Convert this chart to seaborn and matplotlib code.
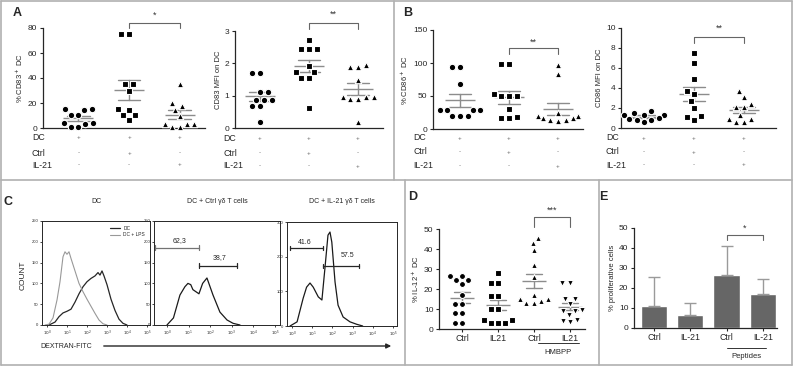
import numpy as np
import pandas as pd
import matplotlib
matplotlib.use('Agg')
import matplotlib.pyplot as plt
import matplotlib.transforms as mtransforms
from matplotlib.lines import Line2D
import seaborn as sns

# ---------------- data ----------------
# A: % CD83+ DC and CD83 MFI (DC / DC+Ctrl / DC+IL-21)
a1_dc = [15, 15, 14.5, 10.5, 10.5, 4, 4, 3.5, 0.5, 0.5]
a1_ctrl = [75, 75, 35, 35, 30, 15, 14.5, 10.5, 10.5, 6.5]
a1_il21 = [35, 20, 17.5, 14.5, 9.5, 3.5, 3.5, 3.5, 0.5, 0.5]
a2_dc = [1.7, 1.7, 1.12, 1.1, 0.88, 0.87, 0.87, 0.68, 0.67, 0.2]
a2_ctrl = [2.72, 2.45, 2.45, 2.45, 1.93, 1.72, 1.72, 1.55, 1.55, 0.62]
a2_il21 = [1.94, 1.9, 1.9, 1.5, 0.97, 0.97, 0.95, 0.9, 0.9, 0.2]
# B: % CD86+ DC and CD86 MFI
b1_dc = [94, 94, 68, 29, 29, 29, 29, 20, 20, 20]
b1_ctrl = [99, 99, 53, 50, 50, 50, 31, 18, 16, 16]
b1_il21 = [97, 84, 24, 20, 20, 19, 16, 16, 13, 13, 12]
b2_dc = [1.75, 1.55, 1.35, 1.3, 1.3, 1.0, 0.95, 0.85, 0.85, 0.6]
b2_ctrl = [7.5, 6.5, 4.9, 3.7, 3.4, 2.7, 2.0, 1.2, 1.15, 0.85]
b2_il21 = [3.7, 3.1, 2.45, 2.15, 2.1, 1.3, 0.95, 0.95, 0.65, 0.65]
row_names = ['DC', 'Ctrl', 'IL-21']
row_signs = [['+', '+', '+'], ['-', '+', '-'], ['-', '-', '+']]

# C: dextran-FITC histograms (x in decades, y = count)
c1_dc_x = [0.1, 0.4, 0.6, 0.8, 1.0, 1.2, 1.4, 1.6, 1.8, 2.0, 2.2, 2.4, 2.55, 2.65, 2.75, 2.85, 3.0, 3.2, 3.4, 3.6, 3.8, 4.0]
c1_dc_y = [0, 7, 20, 29, 33, 38, 55, 75, 92, 104, 112, 118, 126, 120, 130, 118, 97, 62, 35, 14, 4, 0]
c1_lps_x = [-0.1, 0.1, 0.3, 0.5, 0.65, 0.8, 0.9, 1.0, 1.1, 1.2, 1.4, 1.6, 1.8, 2.0, 2.2, 2.4, 2.6, 2.8, 3.0]
c1_lps_y = [0, 2, 17, 60, 104, 164, 176, 170, 176, 160, 130, 100, 80, 62, 45, 28, 12, 3, 0]
c2_x = [0.0, 0.3, 0.6, 0.83, 0.97, 1.1, 1.2, 1.48, 1.65, 1.85, 2.13, 2.45, 2.78, 3.06, 3.38]
c2_y = [0, 17, 72, 92, 100, 97, 85, 75, 100, 113, 72, 31, 12, 4, 0]
c3_x = [-0.1, 0.25, 0.55, 0.72, 0.89, 1.05, 1.3, 1.48, 1.63, 1.78, 1.88, 1.97, 2.13, 2.28, 2.53, 2.87, 3.2, 3.5]
c3_y = [0, 12, 80, 112, 124, 112, 84, 75, 167, 262, 271, 242, 127, 60, 26, 12, 5, 0]

# D: % IL-12+ DC
d_groups = ['Ctrl', 'IL21', 'Ctrl ', 'IL21 ']
d_ctrl = [26.5, 26.5, 24.5, 24.5, 22.5, 17, 12.5, 12.5, 8, 8, 3, 3]
d_il21 = [28, 23, 23, 16.5, 16.5, 10, 10, 4.5, 4.5, 3, 3, 3]
d_hm_ctrl = [45.5, 43, 39.5, 32, 26, 17, 15, 15, 15, 14, 13, 13]
d_hm_il21 = [23, 23, 15, 15, 12.5, 9.5, 9, 9, 7, 4.5, 4, 3.5]

# E: % proliferative cells (mean, upper error)
e_groups = ['Ctrl', 'IL-21', 'Ctrl ', 'IL-21 ']
e_mean = [10.8, 6.3, 26.3, 17.0]
e_err = [14.5, 6.2, 14.9, 7.5]

# ---------------- figure ----------------
sns.set_theme(style='ticks')
plt.rcParams['font.family'] = ['Liberation Sans', 'DejaVu Sans']
plt.rcParams['axes.linewidth'] = 0.9

W, H = 794, 367
fig = plt.figure(figsize=(W / 100, H / 100), dpi=100)


def add_ax(l, t, r, b):
    return fig.add_axes([l / W, 1 - b / H, (r - l) / W, (b - t) / H])


def fy(ypx):
    return 1 - ypx / H


def dots(ax, cats, vals, markers, ylim, yticks, ylabel, xlim, msize=4.6, mean_w=22):
    df = pd.DataFrame({'grp': np.repeat(cats, [len(v) for v in vals]),
                       'val': np.concatenate(vals)})
    sns.pointplot(data=df, x='grp', y='val', order=cats, errorbar='se',
                  color='0.55', marker='_', markersize=mean_w,
                  markeredgewidth=1.0, linestyle='none', capsize=0.45,
                  err_kws={'linewidth': 1.0}, ax=ax)
    for c, m in zip(cats, markers):
        # white rim keeps neighbouring markers apart, like the original layout
        sns.swarmplot(data=df[df.grp == c], x='grp', y='val', order=cats,
                      marker=m, color='black', size=msize, ax=ax,
                      edgecolor='white', linewidth=0.8,
                      zorder=3, clip_on=False)
    ax.set_xlim(xlim)
    ax.set_ylim(ylim)
    ax.set_yticks(yticks)
    ax.set_xlabel('')
    ax.set_ylabel(ylabel, fontsize=5.5, labelpad=2)
    sns.despine(ax=ax)
    ax.tick_params(axis='y', length=2.5, width=0.8, labelsize=6, pad=1.5)
    return df


def bracket(ax, x1, x2, ytop, ybot, label, ylab, fs=6.5):
    tr = mtransforms.blended_transform_factory(ax.transData, fig.transFigure)
    ax.plot([x1, x1, x2, x2], [fy(ybot), fy(ytop), fy(ytop), fy(ybot)],
            color='0.4', lw=0.8, transform=tr, clip_on=False)
    ax.text((x1 + x2) / 2, fy(ylab), label, transform=tr, ha='center',
            va='center', fontsize=fs, color='0.2')


def row_table(ax, xlab, ys):
    tr = mtransforms.blended_transform_factory(ax.transData, fig.transFigure)
    for name, signs, y in zip(row_names, row_signs, ys):
        fig.text(xlab / W, fy(y), name, fontsize=6.3, ha='left', va='center')
        for i, s in enumerate(signs):
            ax.text(i, fy(y), s, transform=tr, fontsize=4.5, ha='center',
                    va='center', color='0.4')


top_cats = ['DC', 'DC+Ctrl', 'DC+IL-21']
mk3 = ['o', 's', '^']

ax = add_ax(43, 28, 205, 128)
dots(ax, top_cats, [a1_dc, a1_ctrl, a1_il21], mk3, (0, 80), [0, 20, 40, 60, 80],
     '% CD83$^+$ DC', (-0.7, 2.5))
ax.set_xticks([])
bracket(ax, 1, 2, 23, 28, '*', 15)
row_table(ax, 32, [137, 153, 165])

ax = add_ax(235, 31, 383, 128)
dots(ax, top_cats, [a2_dc, a2_ctrl, a2_il21], mk3, (0, 3), [0, 1, 2, 3],
     'CD83 MFI on DC', (-0.51, 2.51))
ax.set_xticks([])
bracket(ax, 1, 2, 23, 29, '**', 14)
row_table(ax, 223, [139, 153, 166])

ax = add_ax(433, 30, 583, 129)
dots(ax, top_cats, [b1_dc, b1_ctrl, b1_il21], mk3, (0, 150), [0, 50, 100, 150],
     '% CD86$^+$ DC', (-0.55, 2.51))
ax.set_xticks([])
bracket(ax, 1, 2, 48, 54, '**', 42)
row_table(ax, 413, [138, 152, 166])

ax = add_ax(621, 28, 776, 128)
dots(ax, top_cats, [b2_dc, b2_ctrl, b2_il21], mk3, (0, 10), [0, 2, 4, 6, 8, 10],
     'CD86 MFI on DC', (-0.46, 2.64))
ax.set_xticks([])
bracket(ax, 1, 2, 37, 43, '**', 28)
row_table(ax, 606, [138, 152, 165])

# ---- C: histograms
def hist_ax(rect, ymax, yticks, xlim, title):
    ax = add_ax(*rect)
    ax.set_xlim(xlim)
    ax.set_ylim(0, ymax)
    ax.set_yticks(yticks)
    ax.set_yticklabels([str(t) for t in yticks])
    ax.set_xticks(range(6))
    ax.set_xticklabels(['$10^{%d}$' % k for k in range(6)])
    ax.tick_params(labelsize=3, length=1.5, width=0.6, pad=1)
    for s in ax.spines.values():
        s.set_linewidth(0.7)
    ax.set_title(title, fontsize=5, pad=(rect[1] - 203) * 0.72)
    return ax


ax = hist_ax((42, 221, 150, 325), 250, [0, 50, 100, 150, 200, 250], (-0.25, 5.15), 'DC')
sns.lineplot(x=c1_dc_x, y=c1_dc_y, ax=ax, color='0.15', lw=0.9, label='DC')
sns.lineplot(x=c1_lps_x, y=c1_lps_y, ax=ax, color='0.6', lw=0.8, label='DC + LPS')
ax.legend(loc='upper right', fontsize=3.5, frameon=False, handlelength=2,
          borderaxespad=0.6, labelspacing=0.3)

def gate(ax, x1, x2, y, h, color):
    ax.plot([x1, x2], [y, y], color=color, lw=0.9)
    ax.plot([x1, x1], [y - h, y + h], color=color, lw=0.9)
    ax.plot([x2, x2], [y - h, y + h], color=color, lw=0.9)

ax = hist_ax((154, 221, 280, 325), 250, [0, 50, 100, 150, 200, 250], (-0.6, 5.23),
             'DC + Ctrl γδ T cells')
sns.lineplot(x=c2_x, y=c2_y, ax=ax, color='0.1', lw=0.9)
gate(ax, -0.55, 1.48, 186, 6, '0.45')
gate(ax, 1.48, 3.24, 142, 6, '0.15')
ax.text(0.6, 203, '62,3', fontsize=5, ha='center', va='center')
ax.text(2.45, 162, '38,7', fontsize=5, ha='center', va='center')

ax = hist_ax((287, 222, 397, 326), 300, [0, 100, 200, 300], (-0.25, 5.2),
             'DC + IL-21 γδ T cells')
sns.lineplot(x=c3_x, y=c3_y, ax=ax, color='0.1', lw=0.9)
gate(ax, -0.1, 1.53, 225, 7, '0.15')
gate(ax, 1.53, 3.3, 173, 7, '0.15')
ax.text(0.64, 242, '41.6', fontsize=5, ha='center', va='center')
ax.text(2.77, 202, '57.5', fontsize=5, ha='center', va='center')

fig.text(23 / W, fy(275), 'COUNT', rotation=90, fontsize=6, ha='center', va='center')
fig.text(40 / W, fy(346), 'DEXTRAN-FITC', fontsize=5, ha='left', va='center')
fig.add_artist(matplotlib.patches.FancyArrowPatch(
    (101 / W, fy(346)), (394 / W, fy(346)), transform=fig.transFigure,
    arrowstyle='-|>', mutation_scale=7, lw=1.0, color='0.15'))

# ---- D
ax = add_ax(439, 229, 585, 329)
dots(ax, d_groups, [d_ctrl, d_il21, d_hm_ctrl, d_hm_il21], ['o', 's', '^', 'v'],
     (0, 50), [0, 10, 20, 30, 40, 50], '% IL-12$^+$ DC', (-0.64, 3.42),
     msize=4.3, mean_w=17)
ax.set_xticks(range(4))
ax.set_xticklabels(['Ctrl', 'IL21', 'Ctrl', 'IL21'])
ax.tick_params(axis='x', length=2, width=0.8, labelsize=6.3, pad=1.5)
bracket(ax, 2, 3, 217, 227, '***', 210)
trd = mtransforms.blended_transform_factory(ax.transData, fig.transFigure)
ax.plot([2.1, 3.25], [fy(343), fy(343)], color='0.2', lw=0.7, transform=trd, clip_on=False)
ax.text(2.67, fy(353), 'HMBPP', transform=trd, fontsize=5.5, ha='center', va='center')

# ---- E
ax = add_ax(634, 228, 777, 328)
sns.barplot(x=e_groups, y=e_mean, order=e_groups, color='#666666', width=0.72,
            saturation=1, ax=ax)
ax.errorbar(range(4), e_mean, yerr=[np.zeros(4), e_err], fmt='none',
            ecolor='#9a9a9a', elinewidth=1.0, capsize=4.5, capthick=1.0)
ax.set_xlim(-0.55, 3.39)
ax.set_ylim(0, 50)
ax.set_yticks([0, 10, 20, 30, 40, 50])
ax.set_xticks(range(4))
ax.set_xticklabels(['Ctrl', 'IL-21', 'Ctrl', 'IL-21'])
ax.set_ylabel('% proliferative cells', fontsize=5.5, labelpad=2)
sns.despine(ax=ax)
ax.tick_params(axis='y', length=2.5, width=0.8, labelsize=6, pad=1.5)
ax.tick_params(axis='x', length=2, width=0.8, labelsize=6.3, pad=1.5)
bracket(ax, 2, 3, 235, 240, '*', 228)
tre = mtransforms.blended_transform_factory(ax.transData, fig.transFigure)
ax.plot([2.0, 3.1], [fy(348), fy(348)], color='0.2', lw=0.7, transform=tre, clip_on=False)
ax.text(2.55, fy(356), 'Peptides', transform=tre, fontsize=5.5, ha='center', va='center')

# ---- panel letters
for lab, x, y in [('A', 17, 13), ('B', 408, 13), ('C', 8, 202), ('D', 413, 197), ('E', 603, 197)]:
    fig.text(x / W, fy(y), lab, fontsize=9, fontweight='bold', ha='center', va='center')

# ---- panel frames
def fline(x1, y1, x2, y2):
    fig.add_artist(Line2D([x1 / W, x2 / W], [fy(y1), fy(y2)], color='#b0b0b0', lw=1.2))

fline(1, 1, 792, 1)
fline(1, 365, 792, 365)
fline(1, 1, 1, 365)
fline(792, 1, 792, 365)
fline(1, 180, 792, 180)
fline(394, 1, 394, 180)
fline(405, 180, 405, 365)
fline(599, 180, 599, 365)

fig.savefig('out.png', dpi=100)
